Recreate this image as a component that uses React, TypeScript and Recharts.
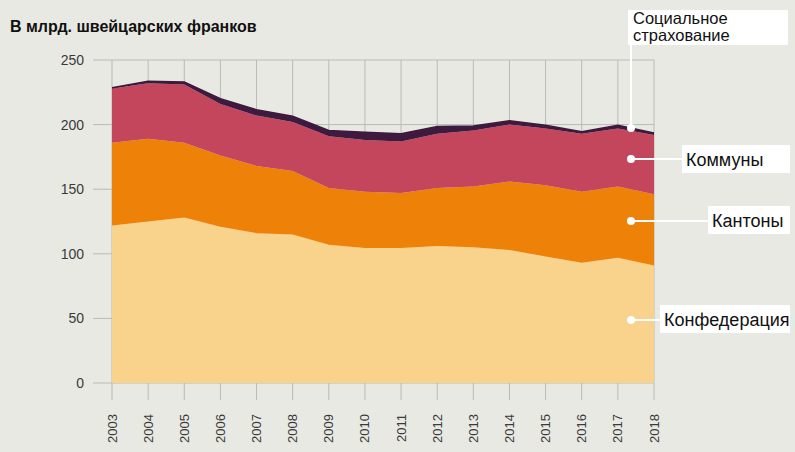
import { AreaChart, Area, XAxis, YAxis, CartesianGrid } from 'recharts';

const years = ['2003', '2004', '2005', '2006', '2007', '2008', '2009', '2010', '2011', '2012', '2013', '2014', '2015', '2016', '2017', '2018'];
const confederation = [122, 125, 128, 121, 116, 115, 107, 104.5, 104.5, 106, 105, 103, 98, 93, 97, 91];
const cantons = [64, 64, 58, 55, 52, 49, 44, 43.5, 42.5, 45, 47, 53, 55, 55, 55, 55];
const communes = [42, 43, 45, 40, 39, 38, 40, 40, 40, 42, 43.5, 44, 44, 45, 45, 46];
const socialInsurance = [0.5, 1.5, 2, 4, 4.5, 4.5, 4.5, 6, 6, 5.5, 3.5, 3, 2.5, 1.5, 2.5, 1.5];
const yTicks = [0, 50, 100, 150, 200, 250];

const data = years.map((year, i) => ({
  year,
  confederation: confederation[i],
  cantons: cantons[i],
  communes: communes[i],
  social: socialInsurance[i],
}));

const FONT = '"Liberation Sans", Arial, Helvetica, sans-serif';
const BG = '#e9e9e4';
const GRID = '#b6bbb6';

const YearTick = ({ x, y, payload }: any) => (
  <text
    x={x}
    y={y}
    transform={`rotate(-90, ${x}, ${y})`}
    textAnchor="end"
    dy="0.35em"
    fontSize={13}
    fontFamily={FONT}
    fill="#3a3a3a"
  >
    {payload.value}
  </text>
);

// callout labels on the right
const callouts = [
  { label: 'Коммуны', dotY: 159, boxX: 682, boxY: 145, boxH: 28, textY: 166 },
  { label: 'Кантоны', dotY: 221, boxX: 708, boxY: 206, boxH: 28, textY: 227 },
  { label: 'Конфедерация', dotY: 320, boxX: 660, boxY: 305, boxH: 28, textY: 326 },
];

export default function App() {
  return (
    <div style={{ position: 'absolute', left: 0, top: 0, width: 795, height: 452, background: BG, overflow: 'hidden' }}>
      <AreaChart width={795} height={452} data={data} margin={{ top: 60, right: 141, bottom: 0, left: 0 }}>
        <CartesianGrid stroke={GRID} strokeWidth={1} />
        <XAxis
          dataKey="year"
          height={69}
          axisLine={false}
          tickLine={{ stroke: GRID }}
          tickSize={17}
          tickMargin={14}
          interval={0}
          tick={<YearTick />}
        />
        <YAxis
          width={112}
          domain={[0, 250]}
          ticks={yTicks}
          interval={0}
          axisLine={false}
          tickLine={{ stroke: GRID }}
          tickSize={19}
          tickMargin={9}
          tick={{ fontSize: 14, fontFamily: FONT, fill: '#3a3a3a' }}
        />
        <Area type="linear" dataKey="confederation" stackId="a" fill="#f9d28c" stroke="none" fillOpacity={1} isAnimationActive={false} />
        <Area type="linear" dataKey="cantons" stackId="a" fill="#ee8208" stroke="none" fillOpacity={1} isAnimationActive={false} />
        <Area type="linear" dataKey="communes" stackId="a" fill="#c4465c" stroke="none" fillOpacity={1} isAnimationActive={false} />
        <Area type="linear" dataKey="social" stackId="a" fill="#3e1b3e" stroke="#3e1b3e" strokeWidth={1.5} fillOpacity={1} isAnimationActive={false} />
      </AreaChart>
      <svg width={795} height={452} style={{ position: 'absolute', left: 0, top: 0, pointerEvents: 'none' }}>
        <text x={10} y={31.5} fontSize={16} fontWeight="bold" fontFamily={FONT} fill="#111">
          В млрд. швейцарских франков
        </text>
        {/* social insurance */}
        <line x1={631} y1={128} x2={631} y2={45} stroke="#fff" strokeWidth={2} />
        <rect x={628} y={10} width={160} height={35} fill="#fff" />
        <text fontSize={16.5} fontFamily={FONT} fill="#111">
          <tspan x={633} y={24}>Социальное</tspan>
          <tspan x={633} y={41}>страхование</tspan>
        </text>
        <circle cx={631} cy={128} r={4} fill="#fff" />
        {callouts.map((c) => (
          <g key={c.label}>
            <line x1={631} y1={c.dotY} x2={c.boxX} y2={c.dotY} stroke="#fff" strokeWidth={2} />
            <rect x={c.boxX} y={c.boxY} width={795 - c.boxX - 5} height={c.boxH} fill="#fff" />
            <text x={c.boxX + 4} y={c.textY} fontSize={18} fontFamily={FONT} fill="#111">
              {c.label}
            </text>
            <circle cx={631} cy={c.dotY} r={4} fill="#fff" />
          </g>
        ))}
      </svg>
    </div>
  );
}
